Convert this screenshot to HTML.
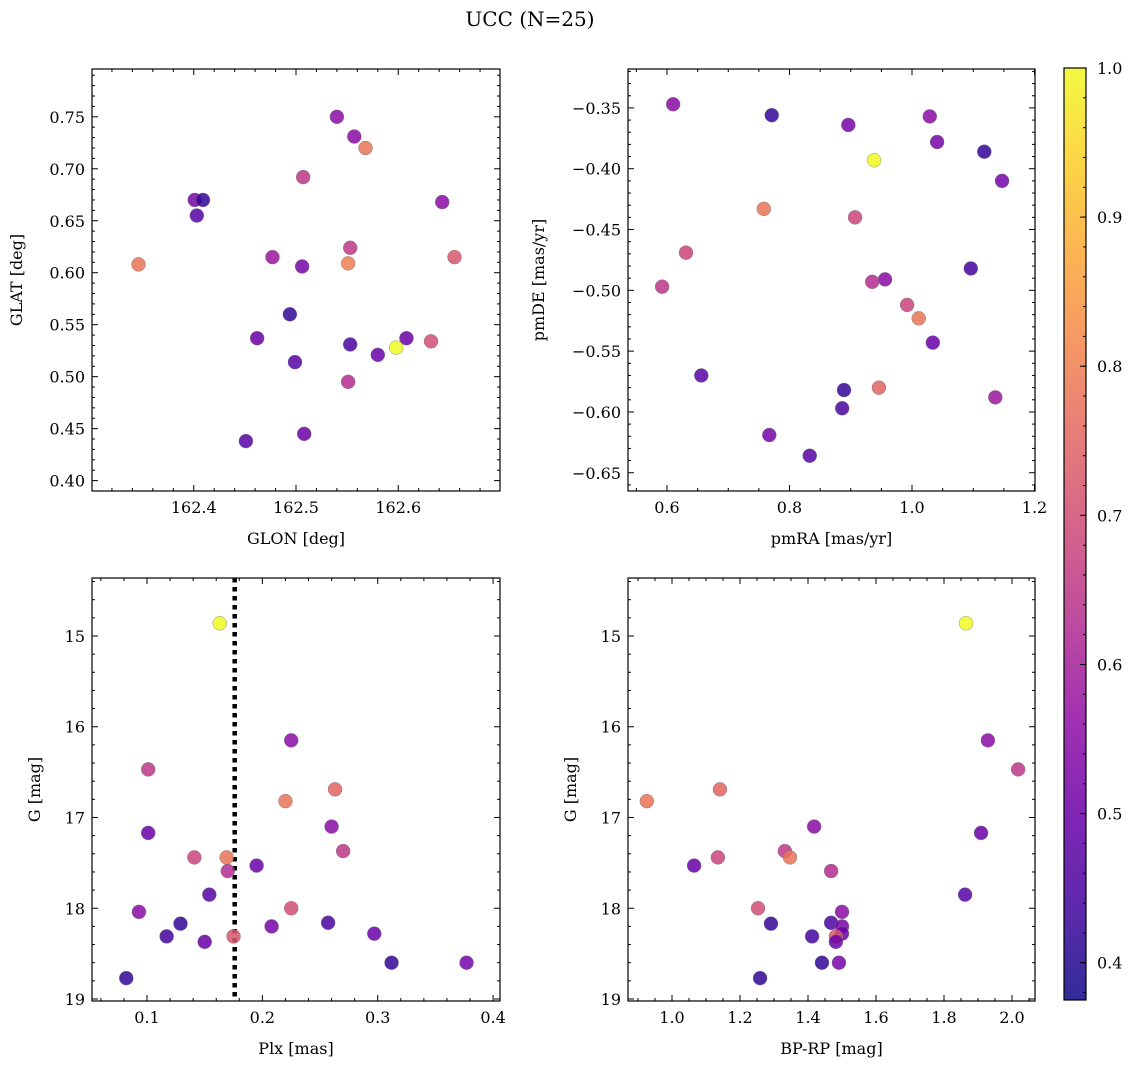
<!DOCTYPE html>
<html><head><meta charset="utf-8"><style>
html,body{margin:0;padding:0;background:#fff}
svg{display:block;font-family:"DejaVu Serif","Liberation Serif",serif}
</style></head><body>
<svg id="c" width="1136" height="1068" viewBox="0 0 1136 1068">
<defs><linearGradient id="cbg" x1="0" y1="1" x2="0" y2="0"></linearGradient></defs>
<text x="530" y="26" text-anchor="middle" font-size="20">UCC (N=25)</text>
</svg>
<script>
// ---- data ----
const glon=[162.540,162.557,162.568,162.507,162.401,162.409,162.643,162.403,162.553,162.477,162.655,162.346,162.506,162.551,162.494,162.462,162.608,162.553,162.632,162.598,162.580,162.499,162.551,162.508,162.451];
const glat=[0.750,0.731,0.720,0.692,0.670,0.670,0.668,0.655,0.624,0.615,0.615,0.608,0.606,0.609,0.560,0.537,0.537,0.531,0.534,0.528,0.521,0.514,0.495,0.445,0.438];
const probTop1=[0.55,0.55,0.78,0.65,0.52,0.42,0.55,0.47,0.65,0.58,0.72,0.78,0.52,0.80,0.42,0.50,0.50,0.45,0.70,1.0,0.50,0.47,0.63,0.50,0.47];
const pmra=[0.610,0.771,1.029,0.896,1.041,1.118,1.147,0.938,0.758,0.907,0.631,1.096,0.592,0.956,0.935,0.992,1.011,1.034,0.656,0.946,0.889,0.886,1.136,0.767,0.833];
const pmde=[-0.347,-0.356,-0.357,-0.364,-0.378,-0.386,-0.410,-0.393,-0.433,-0.440,-0.469,-0.482,-0.497,-0.491,-0.493,-0.512,-0.523,-0.543,-0.570,-0.580,-0.582,-0.597,-0.588,-0.619,-0.636];
const probTop2=[0.55,0.42,0.55,0.52,0.52,0.42,0.52,1.0,0.78,0.68,0.68,0.44,0.65,0.55,0.63,0.68,0.78,0.50,0.47,0.75,0.42,0.45,0.58,0.52,0.47];
const plx=[0.163,0.225,0.101,0.263,0.220,0.101,0.260,0.270,0.141,0.169,0.170,0.195,0.154,0.225,0.093,0.129,0.257,0.208,0.117,0.297,0.175,0.150,0.312,0.377,0.082];
const gmag=[14.86,16.15,16.47,16.69,16.82,17.17,17.10,17.37,17.44,17.44,17.59,17.53,17.85,18.00,18.04,18.17,18.16,18.20,18.31,18.28,18.31,18.37,18.60,18.60,18.77];
const bprp=[1.865,1.929,2.018,1.141,0.926,1.909,1.418,1.332,1.135,1.347,1.468,1.065,1.862,1.253,1.500,1.291,1.468,1.500,1.412,1.500,1.482,1.482,1.441,1.491,1.259];
const probBot=[1.0,0.55,0.65,0.75,0.78,0.50,0.55,0.65,0.68,0.78,0.63,0.50,0.47,0.70,0.55,0.42,0.45,0.52,0.44,0.50,0.72,0.50,0.42,0.52,0.42];
const plxLine=0.176;
const cbTicks=[0.4,0.5,0.6,0.7,0.8,0.9,1.0];

const NS="http://www.w3.org/2000/svg";
const svg=document.getElementById('c');
function mk(tag,attrs,parent){const e=document.createElementNS(NS,tag);for(const k in attrs)e.setAttribute(k,attrs[k]);(parent||svg).appendChild(e);return e;}
const stops=["#0d0887","#41049d","#6a00a8","#8f0da4","#b12a90","#cc4778","#e16462","#f2844b","#fca636","#fcce25","#f0f921"];
function hex(h){return [1,3,5].map(i=>parseInt(h.substr(i,2),16));}
function plasma(t){t=Math.max(0,Math.min(1,t));const f=t*10,i=Math.min(9,Math.floor(f)),r=f-i;const a=hex(stops[i]),b=hex(stops[i+1]);return "rgb("+a.map((v,k)=>Math.round(v+(b[k]-v)*r)).join(",")+")";}
const vmin=0.375,vmax=1.0;
function col(p){return plasma((p-vmin)/(vmax-vmin));}

function panel(o){
  const {x0,x1,y0,y1,xmin,xmax,ymin,ymax,name}=o;
  const sx=v=>x0+(v-xmin)/(xmax-xmin)*(x1-x0);
  const sy=v=>y1-(v-ymin)/(ymax-ymin)*(y1-y0);
  const g=mk('g',{});
  
  
  const eps=1e-9;
  function ticks(step,minStep,lo,hi,fn){for(let v=Math.ceil(lo/minStep-eps)*minStep;v<=hi+eps;v+=minStep){const maj=Math.abs(v/step-Math.round(v/step))<1e-6;fn(v,maj);}}
  ticks(o.xs,o.xm,xmin,xmax,(v,maj)=>{const x=sx(v),L=maj?6:3;
    mk('line',{x1:x,x2:x,y1:y1,y2:y1-L,stroke:'#000','stroke-width':1},g);
    mk('line',{x1:x,x2:x,y1:y0,y2:y0+L,stroke:'#000','stroke-width':1},g);
    if(maj){const t=mk('text',{x:x,y:y1+22,'text-anchor':'middle','font-size':16},g);t.textContent=v.toFixed(o.xd);}});
  ticks(o.ys,o.ym,Math.min(ymin,ymax),Math.max(ymin,ymax),(v,maj)=>{const y=sy(v),L=maj?6:3;
    mk('line',{x1:x0,x2:x0+L,y1:y,y2:y,stroke:'#000','stroke-width':1},g);
    mk('line',{x1:x1,x2:x1-L,y1:y,y2:y,stroke:'#000','stroke-width':1},g);
    if(maj){const t=mk('text',{x:x0-7,y:y+6,'text-anchor':'end','font-size':16},g);t.textContent=(v<0?'\u2212':'')+Math.abs(v).toFixed(o.yd);}});
  if(o.vline!=null){const l=mk('line',{x1:sx(o.vline),x2:sx(o.vline),y1:y0,y2:y1,stroke:'#000','stroke-width':4.5,'stroke-dasharray':'4.5,4.5'},g);}
  o.xv.forEach((v,i)=>{const c=mk('circle',{cx:sx(v),cy:sy(o.yv[i]),r:7,fill:col(o.pv[i]),'fill-opacity':0.85,stroke:'#777','stroke-width':0.4},g);
    
    });
  mk('rect',{x:x0,y:y0,width:x1-x0,height:y1-y0,fill:'none',stroke:'#000','stroke-width':1.2},g);
  const xl=mk('text',{x:(x0+x1)/2,y:y1+53,'text-anchor':'middle','font-size':16},g);xl.textContent=o.xl;
  
  const yx=x0-o.yoff,yy=(y0+y1)/2;
  const yl=mk('text',{x:yx,y:yy,'text-anchor':'middle','font-size':16,transform:`rotate(-90 ${yx} ${yy})`},g);yl.textContent=o.yl;
  
}
panel({name:'glon-glat-panel',x0:92,x1:500,y0:69,y1:491,xmin:162.3005,xmax:162.6995,ymin:0.390,ymax:0.796,xs:0.1,xm:0.02,ys:0.05,ym:0.01,xd:1,yd:2,xv:glon,yv:glat,pv:probTop1,xl:'GLON [deg]',yl:'GLAT [deg]',yoff:70});
panel({name:'pm-panel',x0:628,x1:1035,y0:69,y1:491,xmin:0.5363,xmax:1.2008,ymin:-0.665,ymax:-0.318,xs:0.2,xm:0.05,ys:0.05,ym:0.01,xd:1,yd:2,xv:pmra,yv:pmde,pv:probTop2,xl:'pmRA [mas/yr]',yl:'pmDE [mas/yr]',yoff:84});
panel({name:'plx-g-panel',x0:92,x1:500,y0:578,y1:1001,xmin:0.0523,xmax:0.406,ymin:19.022,ymax:14.361,xs:0.1,xm:0.02,ys:1,ym:0.2,xd:1,yd:0,xv:plx,yv:gmag,pv:probBot,xl:'Plx [mas]',yl:'G [mag]',yoff:52,vline:plxLine});
panel({name:'cmd-panel',x0:628,x1:1035,y0:578,y1:1001,xmin:0.8706,xmax:2.0676,ymin:19.022,ymax:14.361,xs:0.2,xm:0.05,ys:1,ym:0.2,xd:1,yd:0,xv:bprp,yv:gmag,pv:probBot,xl:'BP-RP [mag]',yl:'G [mag]',yoff:52});

// colorbar
const grad=document.getElementById('cbg');
for(let i=0;i<=10;i++){mk('stop',{offset:i/10,'stop-color':stops[i]},grad);}
const cb=mk('g',{});


const cx0=1064,cx1=1086,cy0=68,cy1=1000,cmin=0.375,cmax=1.0;
mk('rect',{x:cx0,y:cy0,width:cx1-cx0,height:cy1-cy0,fill:'url(#cbg)','fill-opacity':0.85},cb);
mk('rect',{x:cx0,y:cy0,width:cx1-cx0,height:cy1-cy0,fill:'none',stroke:'#000','stroke-width':1.2},cb);
const cy=v=>cy1-(v-cmin)/(cmax-cmin)*(cy1-cy0);
for(let v=0.38;v<=1.0001;v+=0.02){const y=cy(v);mk('line',{x1:cx1,x2:cx1-3,y1:y,y2:y,stroke:'#000'},cb);}
cbTicks.forEach(v=>{const y=cy(v);mk('line',{x1:cx1,x2:cx1-6,y1:y,y2:y,stroke:'#000'},cb);
  const t=mk('text',{x:cx1+11,y:y+6,'font-size':16},cb);t.textContent=v.toFixed(1);
  
  });
</script>
</body></html>
